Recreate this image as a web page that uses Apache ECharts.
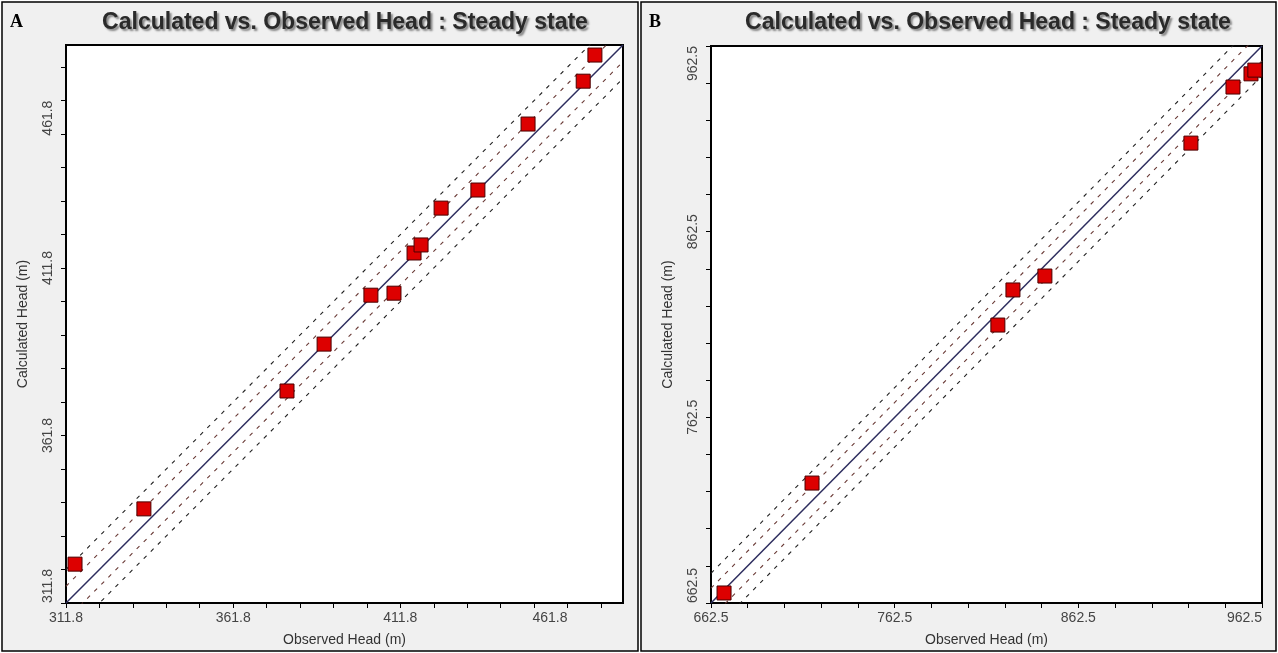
<!DOCTYPE html>
<html><head><meta charset="utf-8">
<script src="https://cdn.jsdelivr.net/npm/echarts@6/dist/echarts.min.js"></script>
<style>html,body{margin:0;padding:0;background:#fff}#c{width:1278px;height:653px}</style>
</head><body><div id="c"></div><script>
// ---- Panel A data ----
const aObserved   = [314.5, 335.1, 377.9, 389.0, 403.0, 409.9, 415.9, 418.0, 424.0, 435.0, 450.0, 466.5, 470.0];
const aCalculated = [323.4, 339.9, 375.1, 389.1, 403.7, 404.3, 416.3, 418.7, 429.7, 435.1, 454.8, 467.6, 475.4];
const aTickLabels = [311.8, 361.8, 411.8, 461.8];
const aRange = [311.8, 478.4];
const aMinorStep = 10;
const aBands = [5, 10];
// ---- Panel B data ----
const bObserved   = [669.6, 717.5, 818.7, 826.9, 844.3, 923.8, 946.7, 956.5, 958.6];
const bCalculated = [667.9, 727.1, 812.2, 831.1, 838.6, 910.2, 940.4, 947.5, 949.5];
const bTickLabels = [662.5, 762.5, 862.5, 962.5];
const bRange = [662.5, 962.5];
const bMinorStep = 20;
const bBands = [8, 16];

const titleText = 'Calculated vs. Observed Head : Steady state';
const xName = 'Observed Head (m)';
const yName = 'Calculated Head (m)';

function stepTicks(r, s) {
  const out = [];
  for (let i = 0; r[0] + i * s <= r[1] + 1e-6; i++) out.push(+(r[0] + i * s).toFixed(1));
  return out;
}
const FONT = 'Liberation Sans, Arial, sans-serif';

function makeAxis(idx, dir, range, labels, step) {
  const isY = dir === 'y';
  return {
    type: 'value', gridIndex: idx, min: range[0], max: range[1],
    name: isY ? yName : xName, nameLocation: 'middle', nameGap: isY ? 36 : 30,
    nameTextStyle: { fontFamily: FONT, fontSize: 14, color: '#333' },
    axisLine: { show: true, lineStyle: { color: '#000', width: 2 } },
    axisTick: { show: true, inside: false, length: 5, lineStyle: { color: '#000', width: 1 },
      customValues: stepTicks(range, step) },
    axisLabel: { show: true, customValues: labels, margin: isY ? 11 : 8,
      rotate: isY ? 90 : 0, fontFamily: FONT, fontSize: 14, color: '#444',
      formatter: v => (+v).toFixed(1),
      alignMinLabel: isY ? 'left' : 'center',
      alignMaxLabel: 'right' },
    splitLine: { show: false }
  };
}

function diagSeries(idx, range, bands) {
  const s = [];
  const mk = (off) => [[range[0], range[0] + off], [range[1], range[1] + off]];
  const base = { type: 'line', xAxisIndex: idx, yAxisIndex: idx, symbol: 'none', silent: true, clip: true, z: 2 };
  s.push(Object.assign({}, base, { data: mk(0), lineStyle: { color: '#2d2d5e', width: 1.5 } }));
  bands.forEach((b, i) => {
    const col = i === 0 ? '#6a3a36' : '#222';
    s.push(Object.assign({}, base, { data: mk(b), lineStyle: { color: col, width: 1.1, type: [4, 6] } }));
    s.push(Object.assign({}, base, { data: mk(-b), lineStyle: { color: col, width: 1.1, type: [4, 6] } }));
  });
  return s;
}

function pts(xs, ys) { return xs.map((x, i) => [x, ys[i]]); }

const scatterStyle = { color: '#dd0000', borderColor: '#4a0000', borderWidth: 1, opacity: 1 };
const titleStyle = { fontFamily: FONT, fontSize: 23, fontWeight: 'bold', color: '#2a2a2a',
  textShadowColor: 'rgba(0,0,0,0.45)', textShadowBlur: 2, textShadowOffsetX: 2, textShadowOffsetY: 2 };

const option = {
  backgroundColor: '#fff',
  animation: false,
  title: [
    { text: titleText, left: 340, top: 6, textAlign: 'center', textStyle: titleStyle },
    { text: titleText, left: 983, top: 6, textAlign: 'center', textStyle: titleStyle }
  ],
  graphic: [
    { type: 'rect', shape: { x: 2, y: 2, width: 636, height: 649 }, style: { fill: '#f0f0f0', stroke: '#000', lineWidth: 1.5 }, z: -10 },
    { type: 'rect', shape: { x: 641, y: 2, width: 635, height: 649 }, style: { fill: '#f0f0f0', stroke: '#000', lineWidth: 1.5 }, z: -10 },
    { type: 'text', left: 10, top: 13, style: { text: 'A', font: 'bold 18px "Liberation Serif", "Times New Roman", serif', fill: '#000' } },
    { type: 'text', left: 649, top: 13, style: { text: 'B', font: 'bold 18px "Liberation Serif", "Times New Roman", serif', fill: '#000' } }
  ],
  grid: [
    { left: 66, top: 45, width: 557, height: 558, show: true, backgroundColor: '#fff', borderColor: '#000', borderWidth: 2 },
    { left: 711, top: 46, width: 551, height: 557, show: true, backgroundColor: '#fff', borderColor: '#000', borderWidth: 2 }
  ],
  xAxis: [ makeAxis(0, 'x', aRange, aTickLabels, aMinorStep), makeAxis(1, 'x', bRange, bTickLabels, bMinorStep) ],
  yAxis: [ makeAxis(0, 'y', aRange, aTickLabels, aMinorStep), makeAxis(1, 'y', bRange, bTickLabels, bMinorStep) ],
  series: [
    ...diagSeries(0, aRange, aBands),
    ...diagSeries(1, bRange, bBands),
    { type: 'scatter', xAxisIndex: 0, yAxisIndex: 0, symbol: 'rect', symbolSize: 14, data: pts(aObserved, aCalculated), itemStyle: scatterStyle, z: 5 },
    { type: 'scatter', xAxisIndex: 1, yAxisIndex: 1, symbol: 'rect', symbolSize: 14, data: pts(bObserved, bCalculated), itemStyle: scatterStyle, z: 5 }
  ]
};
const chart = echarts.init(document.getElementById('c'), null, { renderer: 'canvas' });
chart.setOption(option);
</script></body></html>
